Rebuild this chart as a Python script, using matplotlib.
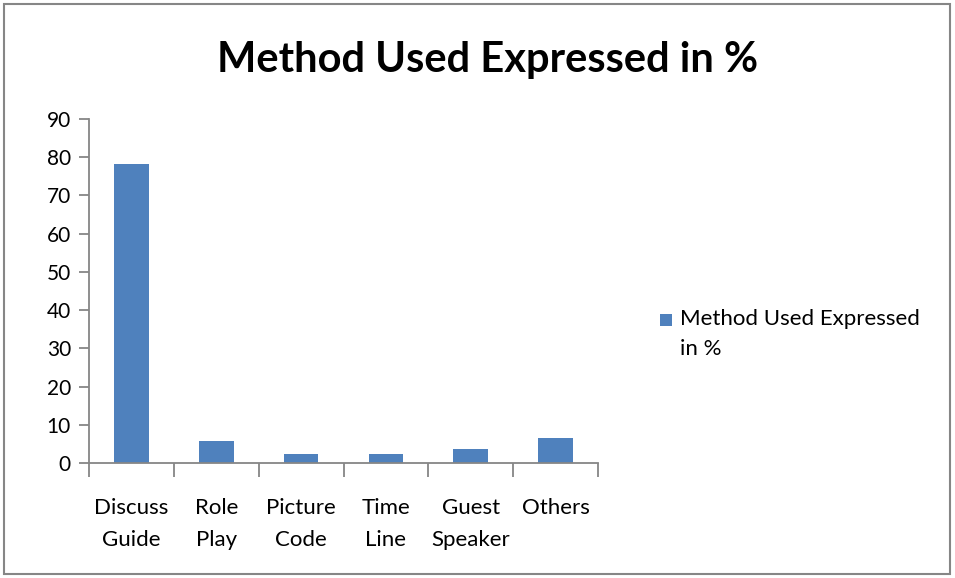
import matplotlib.pyplot as plt
from matplotlib.patches import Rectangle

categories = ["Discuss\nGuide", "Role\nPlay", "Picture\nCode", "Time\nLine", "Guest\nSpeaker", "Others"]
values = [78.2, 5.8, 2.4, 2.4, 3.7, 6.5]
series_name = "Method Used Expressed in %"
legend_label = "Method Used Expressed\nin %"

plt.rcParams["font.family"] = ["Lato", "DejaVu Sans"]
axis_grey = "#868686"
bar_blue = "#4f81bd"

fig = plt.figure(figsize=(9.55, 5.78), dpi=100)
ax = fig.add_axes([89 / 955, 1 - 463 / 578, (598 - 89) / 955, (463 - 119) / 578])

x = list(range(len(categories)))
ax.bar(x, values, width=0.41, color=bar_blue)
ax.set_xlim(-0.5, len(categories) - 0.5)
ax.set_ylim(0, 90)
ax.set_yticks(range(0, 91, 10))

# category labels sit between the boundary ticks
ax.set_xticks(x)
ax.set_xticklabels(categories, fontsize=16, linespacing=1.75)
ax.tick_params(axis="x", length=0, pad=25)
ax.set_xticks([i - 0.5 for i in range(len(categories) + 1)], minor=True)
ax.tick_params(axis="x", which="minor", length=10, width=1.3, color=axis_grey, direction="out")
ax.tick_params(axis="y", length=7, width=1.3, color=axis_grey, labelsize=15, pad=6)

for side in ["top", "right"]:
    ax.spines[side].set_visible(False)
for side in ["left", "bottom"]:
    ax.spines[side].set_color(axis_grey)
    ax.spines[side].set_linewidth(1.3)

fig.text(488 / 955, 1 - 60 / 578, series_name, ha="center", va="center",
         fontsize=30, fontweight="bold")

# legend drawn by hand so the marker lines up with the first text line
fig.patches.append(Rectangle((660 / 955, 1 - 326 / 578), 12 / 955, 12 / 578,
                             transform=fig.transFigure, facecolor=bar_blue,
                             edgecolor="none"))
fig.text(680 / 955, 1 - 309 / 578, legend_label, ha="left", va="top",
         fontsize=16, linespacing=1.6)

fig.patches.append(Rectangle((4 / 955, 4 / 578), 946 / 955, 570 / 578,
                             transform=fig.transFigure, fill=False,
                             edgecolor=axis_grey, linewidth=1.5))

fig.savefig("out.png", dpi=100)
